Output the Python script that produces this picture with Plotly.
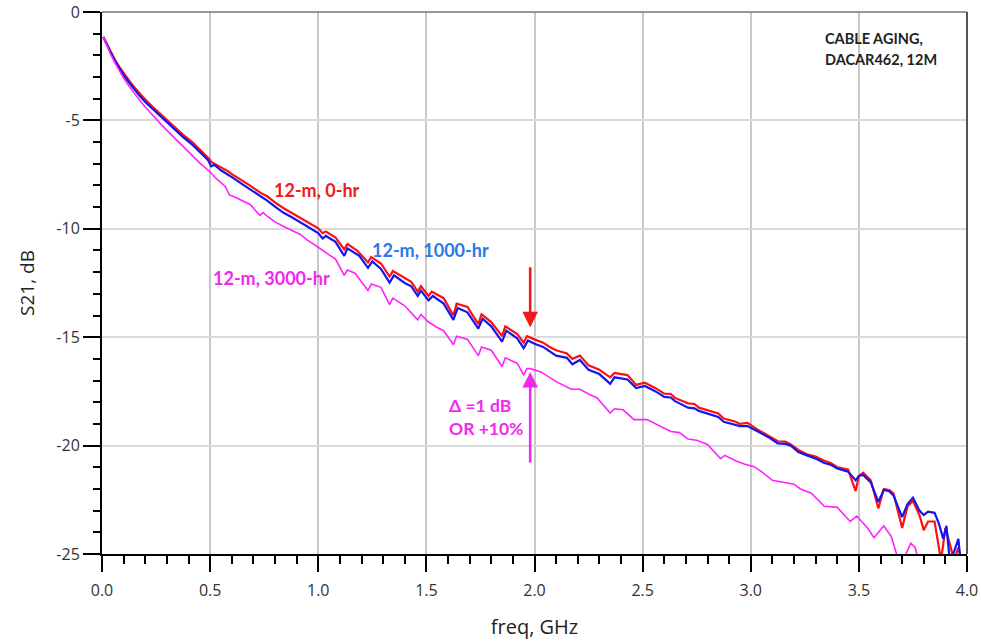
import plotly.graph_objects as go

# S21 insertion loss of a 12 m DACAR462 cable at three aging stages
freq_0hr = [0.006, 0.02, 0.04, 0.06, 0.08, 0.10, 0.125, 0.15, 0.175, 0.20, 0.235, 0.27, 0.30, 0.34,
            0.375, 0.42, 0.454, 0.49, 0.50, 0.505, 0.55, 0.58, 0.606, 0.65, 0.685, 0.73, 0.764, 0.80,
            0.838, 0.88, 0.917, 0.96, 1.00, 1.02, 1.035, 1.08, 1.12, 1.135, 1.18, 1.23, 1.245, 1.29,
            1.33, 1.345, 1.40, 1.43, 1.46, 1.475, 1.51, 1.525, 1.58, 1.625, 1.64, 1.69, 1.74, 1.755,
            1.80, 1.85, 1.865, 1.92, 1.95, 1.965, 2.00, 2.04, 2.07, 2.10, 2.15, 2.175, 2.21, 2.25,
            2.30, 2.35, 2.37, 2.43, 2.47, 2.51, 2.56, 2.60, 2.63, 2.65, 2.71, 2.74, 2.76, 2.82,
            2.85, 2.875, 2.93, 2.95, 2.985, 3.03, 3.08, 3.125, 3.16, 3.185, 3.22, 3.26, 3.30, 3.34,
            3.37, 3.40, 3.45, 3.485, 3.50, 3.52, 3.555, 3.59, 3.615, 3.64, 3.66, 3.70, 3.725, 3.75,
            3.78, 3.80, 3.82, 3.85, 3.88, 3.90, 3.92, 3.94, 3.96, 3.975]
s21_0hr = [-1.15, -1.44, -1.84, -2.20, -2.53, -2.83, -3.16, -3.48, -3.77, -4.04, -4.38, -4.70, -4.98, -5.34,
           -5.67, -6.02, -6.36, -6.70, -6.82, -6.92, -7.15, -7.33, -7.51, -7.78, -8.01, -8.32, -8.50, -8.78,
           -9.04, -9.28, -9.50, -9.75, -9.98, -10.20, -10.12, -10.40, -10.95, -10.70, -11.00, -11.55, -11.30, -11.60,
           -12.20, -11.95, -12.30, -12.45, -12.90, -12.65, -13.10, -12.90, -13.20, -14.00, -13.45, -13.60, -14.40, -13.95,
           -14.30, -14.95, -14.50, -14.85, -15.25, -14.95, -15.10, -15.25, -15.45, -15.60, -15.75, -16.00, -15.85, -16.30,
           -16.50, -16.85, -16.65, -16.75, -17.20, -17.10, -17.35, -17.60, -17.62, -17.80, -18.05, -18.08, -18.25, -18.45,
           -18.52, -18.75, -18.90, -19.00, -18.95, -19.25, -19.55, -19.80, -19.82, -19.95, -20.20, -20.40, -20.50, -20.70,
           -20.80, -21.00, -21.10, -22.10, -21.40, -21.25, -21.60, -22.90, -22.00, -22.05, -22.20, -23.80, -22.80, -22.55,
           -23.20, -23.90, -23.50, -23.50, -25.30, -23.80, -24.50, -25.30, -24.70, -25.30]

freq_1000hr = [0.006, 0.02, 0.04, 0.06, 0.08, 0.10, 0.125, 0.15, 0.175, 0.20, 0.235, 0.27, 0.30, 0.34,
               0.375, 0.42, 0.454, 0.49, 0.505, 0.52, 0.55, 0.58, 0.606, 0.65, 0.685, 0.73, 0.764, 0.80,
               0.838, 0.88, 0.917, 0.97, 1.00, 1.02, 1.035, 1.08, 1.12, 1.135, 1.19, 1.23, 1.25, 1.29,
               1.33, 1.35, 1.40, 1.43, 1.46, 1.475, 1.51, 1.53, 1.58, 1.625, 1.645, 1.69, 1.74, 1.76,
               1.80, 1.85, 1.87, 1.92, 1.95, 1.97, 2.00, 2.04, 2.07, 2.10, 2.15, 2.175, 2.21, 2.25,
               2.30, 2.35, 2.37, 2.43, 2.47, 2.51, 2.56, 2.60, 2.63, 2.65, 2.71, 2.74, 2.76, 2.82,
               2.85, 2.875, 2.93, 2.95, 2.985, 3.03, 3.08, 3.125, 3.16, 3.185, 3.22, 3.26, 3.30, 3.34,
               3.37, 3.40, 3.45, 3.485, 3.50, 3.52, 3.555, 3.59, 3.615, 3.64, 3.66, 3.70, 3.725, 3.75,
               3.78, 3.80, 3.82, 3.85, 3.87, 3.89, 3.905, 3.92, 3.94, 3.96, 3.97]
s21_1000hr = [-1.15, -1.46, -1.88, -2.26, -2.60, -2.91, -3.25, -3.57, -3.88, -4.15, -4.48, -4.80, -5.07, -5.43,
              -5.77, -6.14, -6.48, -6.83, -7.12, -7.05, -7.30, -7.47, -7.65, -7.95, -8.18, -8.50, -8.70, -8.98,
              -9.25, -9.48, -9.70, -10.00, -10.20, -10.45, -10.33, -10.60, -11.25, -10.90, -11.25, -11.80, -11.50, -11.85,
              -12.48, -12.15, -12.50, -12.65, -13.10, -12.85, -13.30, -13.10, -13.45, -14.20, -13.65, -13.85, -14.60, -14.15,
              -14.50, -15.20, -14.70, -15.05, -15.50, -15.15, -15.30, -15.45, -15.65, -15.85, -15.95, -16.25, -16.05, -16.50,
              -16.70, -17.15, -16.85, -16.95, -17.35, -17.25, -17.50, -17.75, -17.78, -17.95, -18.25, -18.28, -18.40, -18.60,
              -18.68, -18.90, -19.05, -19.10, -19.10, -19.35, -19.60, -19.90, -19.92, -20.00, -20.30, -20.45, -20.60, -20.80,
              -20.88, -21.05, -21.20, -21.60, -21.40, -21.35, -21.70, -22.60, -22.05, -22.10, -22.30, -23.30, -22.70, -22.40,
              -23.00, -23.20, -23.05, -23.10, -23.60, -24.30, -23.70, -25.30, -24.90, -24.30, -25.30]

freq_3000hr = [0.006, 0.02, 0.04, 0.06, 0.08, 0.10, 0.125, 0.15, 0.175, 0.20, 0.235, 0.27, 0.30, 0.34,
               0.375, 0.41, 0.454, 0.50, 0.53, 0.57, 0.59, 0.606, 0.64, 0.685, 0.73, 0.745, 0.764, 0.80,
               0.838, 0.88, 0.917, 0.95, 0.977, 1.00, 1.05, 1.08, 1.12, 1.135, 1.17, 1.23, 1.245, 1.29,
               1.33, 1.345, 1.40, 1.46, 1.475, 1.51, 1.55, 1.58, 1.625, 1.64, 1.69, 1.74, 1.755, 1.80,
               1.85, 1.865, 1.92, 1.95, 1.965, 1.98, 2.03, 2.07, 2.10, 2.17, 2.21, 2.25, 2.29, 2.35,
               2.37, 2.41, 2.46, 2.52, 2.58, 2.63, 2.67, 2.71, 2.75, 2.80, 2.86, 2.88, 2.93, 2.97,
               3.015, 3.05, 3.10, 3.16, 3.20, 3.23, 3.28, 3.34, 3.40, 3.46, 3.49, 3.54, 3.57, 3.615,
               3.65, 3.68, 3.70, 3.74, 3.76, 3.78]
s21_3000hr = [-1.15, -1.50, -1.95, -2.35, -2.72, -3.05, -3.42, -3.76, -4.08, -4.38, -4.78, -5.15, -5.46, -5.85,
              -6.20, -6.55, -6.98, -7.38, -7.70, -8.05, -8.45, -8.50, -8.65, -8.88, -9.38, -9.25, -9.42, -9.68,
              -9.88, -10.10, -10.26, -10.52, -10.72, -10.85, -11.20, -11.40, -12.15, -11.90, -12.05, -12.85, -12.55, -12.70,
              -13.50, -13.20, -13.55, -14.20, -13.95, -14.30, -14.55, -14.70, -15.35, -14.95, -15.10, -15.85, -15.45, -15.60,
              -16.35, -15.95, -16.20, -16.75, -16.45, -16.45, -16.60, -16.85, -17.05, -17.40, -17.40, -17.62, -17.80, -18.50,
              -18.30, -18.35, -18.80, -18.80, -19.10, -19.35, -19.40, -19.70, -19.75, -19.95, -20.60, -20.45, -20.70, -20.85,
              -20.97, -21.20, -21.60, -21.70, -21.78, -22.00, -22.20, -22.80, -22.85, -23.50, -23.25, -23.80, -24.25, -23.70,
              -24.20, -25.20, -25.40, -24.50, -24.70, -25.50]

x_ticks = [0.0, 0.5, 1.0, 1.5, 2.0, 2.5, 3.0, 3.5, 4.0]
x_tick_text = ["0.0", "0.5", "1.0", "1.5", "2.0", "2.5", "3.0", "3.5", "4.0"]
y_ticks = [0, -5, -10, -15, -20, -25]
y_tick_text = ["0", "-5", "-10", "-15", "-20", "-25"]

fig = go.Figure()
fig.add_trace(go.Scatter(x=freq_0hr, y=s21_0hr, mode="lines", name="12-m, 0-hr",
                         line=dict(color="#ff1010", width=2.2)))
fig.add_trace(go.Scatter(x=freq_1000hr, y=s21_1000hr, mode="lines", name="12-m, 1000-hr",
                         line=dict(color="#1515f0", width=2.2)))
fig.add_trace(go.Scatter(x=freq_3000hr, y=s21_3000hr, mode="lines", name="12-m, 3000-hr",
                         line=dict(color="#ff22ff", width=1.6)))

label_font = "Lato, 'Open Sans', sans-serif"

# curve labels
fig.add_annotation(x=0.994, y=-8.21, text="<b>12-m, 0-hr</b>", showarrow=False,
                   font=dict(family=label_font, size=18, color="#f01818"))
fig.add_annotation(x=1.517, y=-10.96, text="<b>12-m, 1000-hr</b>", showarrow=False,
                   font=dict(family=label_font, size=18, color="#2a78ea"))
fig.add_annotation(x=0.786, y=-12.29, text="<b>12-m, 3000-hr</b>", showarrow=False,
                   font=dict(family=label_font, size=18, color="#f028f0"))

# delta arrows at 2 GHz
fig.add_annotation(x=1.98, y=-14.55, ax=1.98, ay=-11.7, xref="x", yref="y", axref="x", ayref="y",
                   text="", showarrow=True, arrowhead=2, arrowsize=1.2, arrowwidth=2.6,
                   arrowcolor="#f01818")
fig.add_annotation(x=1.98, y=-16.6, ax=1.98, ay=-20.85, xref="x", yref="y", axref="x", ayref="y",
                   text="", showarrow=True, arrowhead=2, arrowsize=1.2, arrowwidth=2.6,
                   arrowcolor="#f028f0")
fig.add_annotation(x=1.595, y=-18.17, text="<b>Δ =1 dB</b>", showarrow=False, xanchor="left",
                   font=dict(family=label_font, size=17.5, color="#f028f0"))
fig.add_annotation(x=1.595, y=-19.22, text="<b>OR +10%</b>", showarrow=False, xanchor="left",
                   font=dict(family=label_font, size=17.5, color="#f028f0"))

# caption
fig.add_annotation(x=3.334, y=-1.2, text="<b>CABLE AGING,</b>", showarrow=False, xanchor="left",
                   font=dict(family=label_font, size=14.5, color="#222222"))
fig.add_annotation(x=3.334, y=-2.2, text="<b>DACAR462, 12M</b>", showarrow=False, xanchor="left",
                   font=dict(family=label_font, size=14.5, color="#222222"))

# frame on top and right
fig.add_shape(type="line", xref="paper", yref="paper", x0=0, x1=1, y0=1, y1=1,
              line=dict(color="#777777", width=1.5))
fig.add_shape(type="line", xref="paper", yref="paper", x0=1, x1=1, y0=0, y1=1,
              line=dict(color="#555555", width=2))

tick_font = dict(family="'Open Sans', sans-serif", size=16, color="#333333")

fig.update_xaxes(range=[0, 4], tickvals=x_ticks, ticktext=x_tick_text, ticks="outside",
                 ticklen=16, tickwidth=2, tickcolor="black", showline=True, linecolor="black",
                 linewidth=2, showgrid=True, gridcolor="#c8c8c8", gridwidth=2, zeroline=False,
                 tickfont=tick_font, ticklabelstandoff=5, automargin=False,
                 minor=dict(dtick=0.1, tick0=0, ticks="outside", ticklen=8, tickwidth=2,
                            tickcolor="black", showgrid=False),
                 title=dict(text="freq, GHz", standoff=20,
                            font=dict(family="'Open Sans', sans-serif", size=20, color="#222222")))
fig.update_yaxes(range=[-25, 0], tickvals=y_ticks, ticktext=y_tick_text, ticks="outside",
                 ticklen=17, tickwidth=2, tickcolor="black", showline=True, linecolor="black",
                 linewidth=2, showgrid=True, gridcolor="#dadada", gridwidth=2, zeroline=False,
                 tickfont=tick_font, ticklabeloverflow="allow", automargin=False,
                 minor=dict(dtick=1, tick0=0, ticks="outside", ticklen=7, tickwidth=2,
                            tickcolor="black", showgrid=False),
                 title=dict(text="S21, dB", standoff=17,
                            font=dict(family="'Open Sans', sans-serif", size=19, color="#222222")))

fig.update_layout(width=981, height=641, margin=dict(l=102, r=14, t=12, b=87),
                  paper_bgcolor="white", plot_bgcolor="white", showlegend=False)

fig.write_html("out.html")
